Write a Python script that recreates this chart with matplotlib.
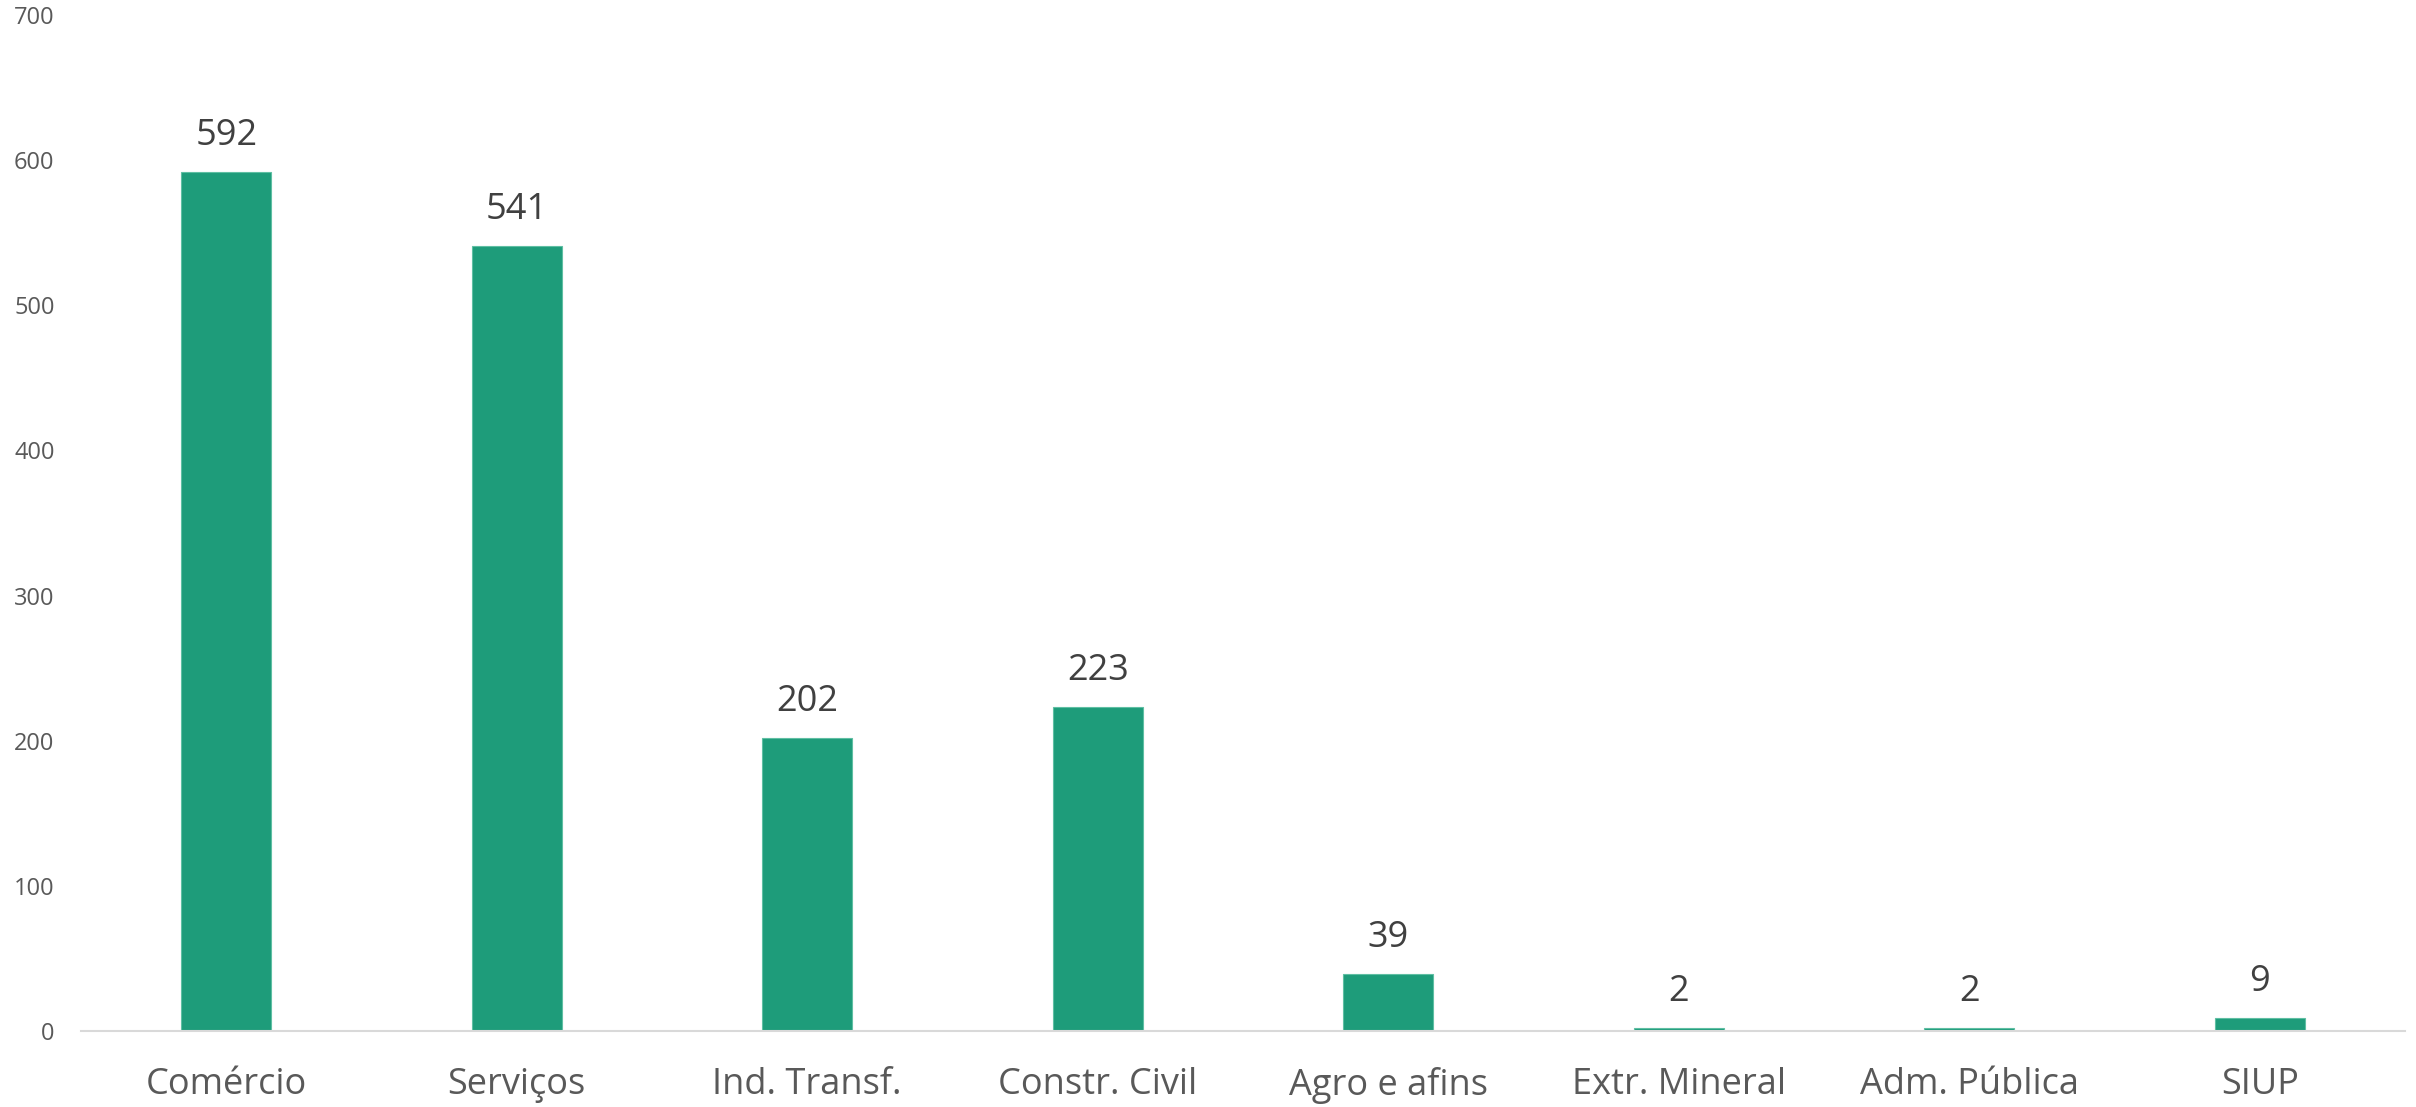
import matplotlib
matplotlib.use("Agg")
import matplotlib.pyplot as plt

setores = ["Comércio", "Serviços", "Ind. Transf.", "Constr. Civil",
           "Agro e afins", "Extr. Mineral", "Adm. Pública", "SIUP"]
valores = [592, 541, 202, 223, 39, 2, 2, 9]
yticks = [0, 100, 200, 300, 400, 500, 600, 700]

cor_barra = "#1E9C7A"

plt.rcParams["font.family"] = ["Open Sans", "DejaVu Sans"]

fig = plt.figure(figsize=(24.16, 11.07), dpi=100)
ax = fig.add_axes([0.0335, 0.0687, 0.962, 0.9177])

x = range(len(setores))
barras = ax.bar(x, valores, width=0.31, color=cor_barra, edgecolor="#5fbfa3", linewidth=0.8)

for xi, v in zip(x, valores):
    ax.annotate(str(v), (xi, v), xytext=(0, 13), textcoords="offset points",
                ha="center", va="bottom", fontsize=26, color="#404040")

ax.set_xlim(-0.5, len(setores) - 0.5)
ax.set_ylim(0, 700)
ax.set_yticks(yticks)
ax.set_yticklabels([str(t) for t in yticks], fontsize=17, color="#595959")
ax.set_xticks(list(x))
ax.set_xticklabels(setores, fontsize=26, color="#595959")
ax.tick_params(axis="both", length=0)
ax.tick_params(axis="x", pad=26)
ax.tick_params(axis="y", pad=19)

for s in ["top", "right", "left"]:
    ax.spines[s].set_visible(False)
ax.spines["bottom"].set_color("#d9d9d9")
ax.spines["bottom"].set_linewidth(1.5)

fig.savefig("out.png", dpi=100)
